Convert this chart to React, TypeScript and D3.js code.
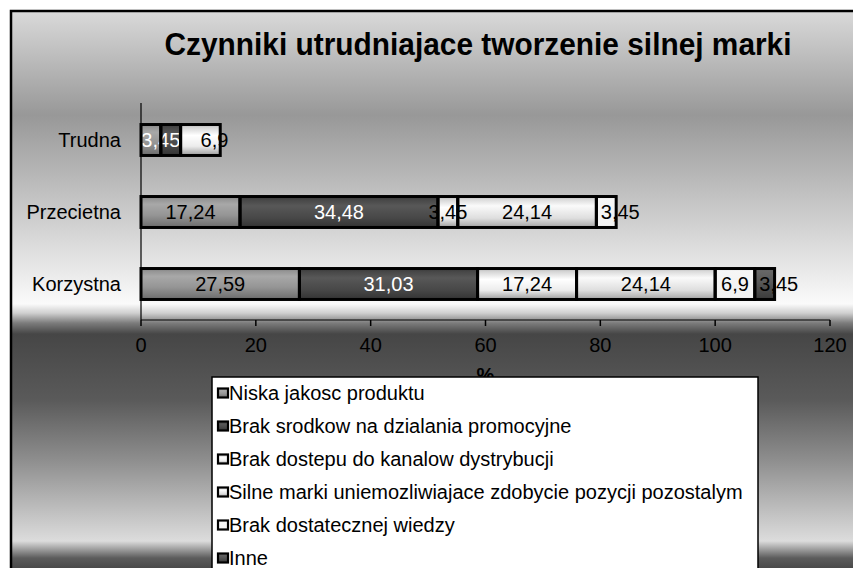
import React from "react";
import * as d3 from "d3";

const categories = ["Trudna", "Przecietna", "Korzystna"];
const seriesNames = [
  "Niska jakosc produktu",
  "Brak srodkow na dzialania promocyjne",
  "Brak dostepu do kanalow dystrybucji",
  "Silne marki uniemozliwiajace zdobycie pozycji pozostalym",
  "Brak dostatecznej wiedzy",
  "Inne",
];
const niska = [3.45, 17.24, 27.59];
const srodkow = [3.45, 34.48, 31.03];
const dostep = [6.9, 3.45, 17.24];
const silne = [0, 24.14, 24.14];
const wiedza = [0, 3.45, 6.9];
const inne = [0, 0, 3.45];
const seriesValues = [niska, srodkow, dostep, silne, wiedza, inne];
const xTicks = [0, 20, 40, 60, 80, 100, 120];
const title = "Czynniki utrudniajace tworzenie silnej marki";
const axisTitle = "%";

const gradStops: [number, string][][] = [
  [[0, "#8a8a8a"], [0.25, "#a8a8a8"], [0.6, "#959595"], [1, "#6c6c6c"]],
  [[0, "#3e3e3e"], [0.3, "#585858"], [0.7, "#474747"], [1, "#333333"]],
  [[0, "#c4c4c4"], [0.35, "#ffffff"], [0.7, "#ececec"], [1, "#9c9c9c"]],
  [[0, "#cccccc"], [0.3, "#fafafa"], [0.7, "#dedede"], [1, "#a4a4a4"]],
  [[0, "#f6f6f6"], [1, "#f2f2f2"]],
  [[0, "#6a6a6a"], [0.4, "#5a5a5a"], [1, "#3a3a3a"]],
];
const labelColors = ["#000", "#fff", "#000", "#000", "#000", "#000"];

const bgStops: [number, string][] = [
  [10, "#dadada"],
  [115, "#989898"],
  [200, "#c4c4c4"],
  [292, "#f4f4f4"],
  [304, "#fafafa"],
  [313, "#d0d0d0"],
  [323, "#7c7c7c"],
  [334, "#464646"],
  [400, "#5a5a5a"],
  [460, "#8e8e8e"],
  [520, "#c8c8c8"],
  [541, "#dcdcdc"],
  [549, "#a0a0a0"],
  [558, "#5c5c5c"],
  [568, "#4a4a4a"],
];

const fmt = d3
  .formatLocale({ decimal: ",", thousands: " ", grouping: [3], currency: ["", ""] })
  .format(".4~g");

function textW(s: string, size: number) {
  let w = 0;
  for (const c of s) w += c === "," || c === "." ? 0.278 : 0.556;
  return w * size;
}

export default function App() {
  const W = 853;
  const H = 568;
  const x = d3.scaleLinear().domain([0, 120]).range([141, 830]);
  const y = d3
    .scaleBand<string>()
    .domain(categories)
    .range([104, 320])
    .paddingInner(0.57)
    .paddingOuter(0.285);

  const table = categories.map((c, i) => {
    const row: any = { cat: c };
    seriesNames.forEach((s, j) => (row[s] = seriesValues[j][i]));
    return row;
  });
  const stacked = d3.stack<any>().keys(seriesNames)(table);

  type Lbl = { x: number; y: number; text: string; color: string };
  const labels: Lbl[] = [];
  categories.forEach((c, ci) => {
    const segs = stacked
      .map((s, si) => ({ si, x0: x(s[ci][0]), x1: x(s[ci][1]), v: seriesValues[si][ci] }))
      .filter((d) => d.v > 0);
    const cy = (y(c) as number) + y.bandwidth() / 2;
    const out: (Lbl & { hide?: boolean })[] = [];
    segs.forEach((d, k) => {
      const text = fmt(d.v);
      const tw = textW(text, 20);
      let cx = (d.x0 + d.x1) / 2;
      if (k === segs.length - 1) cx += 14;
      out.push({ x: cx, y: cy, text, color: labelColors[d.si] });
      if (k > 0) {
        const p = segs[k - 1];
        const pw = textW(fmt(p.v), 20);
        if (p.x1 - p.x0 < pw && d.x1 - d.x0 < tw) {
          out[k - 1].hide = true;
          out[k].x = d.x0;
        }
      }
    });
    out.filter((l) => !l.hide).forEach((l) => labels.push(l));
  });

  const font = "'Liberation Sans', Arial, sans-serif";
  const legendY0 = 393;
  const legendStep = 33;

  return (
    <svg
      width={W}
      height={H}
      style={{ position: "absolute", left: 0, top: 0, display: "block" }}
      fontFamily={font}
    >
      <defs>
        <linearGradient id="bg" gradientUnits="userSpaceOnUse" x1="0" y1="0" x2="0" y2={H}>
          {bgStops.map(([o, c], i) => (
            <stop key={i} offset={o / H} stopColor={c} />
          ))}
        </linearGradient>
        {gradStops.map((st, i) => (
          <linearGradient key={i} id={`g${i}`} x1="0" y1="0" x2="0" y2="1">
            {st.map(([o, c], j) => (
              <stop key={j} offset={o} stopColor={c} />
            ))}
          </linearGradient>
        ))}
      </defs>
      <rect x={0} y={0} width={W} height={H} fill="#fff" />
      <rect x={11} y={11} width={W + 20} height={H + 20} fill="url(#bg)" stroke="#000" strokeWidth={2.5} />

      <text x={478} y={55} textAnchor="middle" fontWeight="bold" fontSize={32} textLength={627} lengthAdjust="spacingAndGlyphs" fill="#000">
        {title}
      </text>

      {stacked.map((s, si) =>
        s.map((d, ci) =>
          d[1] - d[0] > 0 ? (
            <rect
              key={`f${si}-${ci}`}
              x={x(d[0])}
              y={y(categories[ci])}
              width={x(d[1]) - x(d[0])}
              height={y.bandwidth()}
              fill={`url(#g${si})`}
            />
          ) : null
        )
      )}

      {labels.map((l, i) => (
        <text key={i} x={l.x} y={l.y} dy="0.36em" textAnchor="middle" fontSize={20} fill={l.color}>
          {l.text}
        </text>
      ))}

      {stacked.map((s, si) =>
        s.map((d, ci) =>
          d[1] - d[0] > 0 ? (
            <rect
              key={`o${si}-${ci}`}
              x={x(d[0])}
              y={y(categories[ci])}
              width={x(d[1]) - x(d[0])}
              height={y.bandwidth()}
              fill="none"
              stroke="#000"
              strokeWidth={3}
            />
          ) : null
        )
      )}

      <line x1={x(0)} x2={x(0)} y1={103} y2={320} stroke="#000" strokeWidth={1.2} />
      <line x1={x(0)} x2={x(120)} y1={320} y2={320} stroke="#000" strokeWidth={1.2} />
      {xTicks.map((t) => (
        <g key={t}>
          <line x1={x(t)} x2={x(t)} y1={320} y2={326} stroke="#000" strokeWidth={1.5} />
          <text x={x(t)} y={352} textAnchor="middle" fontSize={20} fill="#000">
            {t}
          </text>
        </g>
      ))}
      {categories.map((c) => (
        <text key={c} x={121} y={(y(c) as number) + y.bandwidth() / 2} dy="0.36em" textAnchor="end" fontSize={20} fill="#000">
          {c}
        </text>
      ))}
      <text x={(x(0) + x(120)) / 2} y={382} textAnchor="middle" fontSize={20} fontWeight="bold" fill="#000">
        {axisTitle}
      </text>

      <rect x={212} y={377} width={546} height={H} fill="#fff" stroke="#000" strokeWidth={1.5} />
      {seriesNames.map((s, i) => {
        const cy = legendY0 + i * legendStep;
        return (
          <g key={s}>
            <rect x={218} y={cy - 4.5} width={10} height={9} fill={`url(#g${i})`} stroke="#000" strokeWidth={2.2} />
            <text x={229} y={cy} dy="0.36em" fontSize={20} fill="#000">
              {s}
            </text>
          </g>
        );
      })}
    </svg>
  );
}
